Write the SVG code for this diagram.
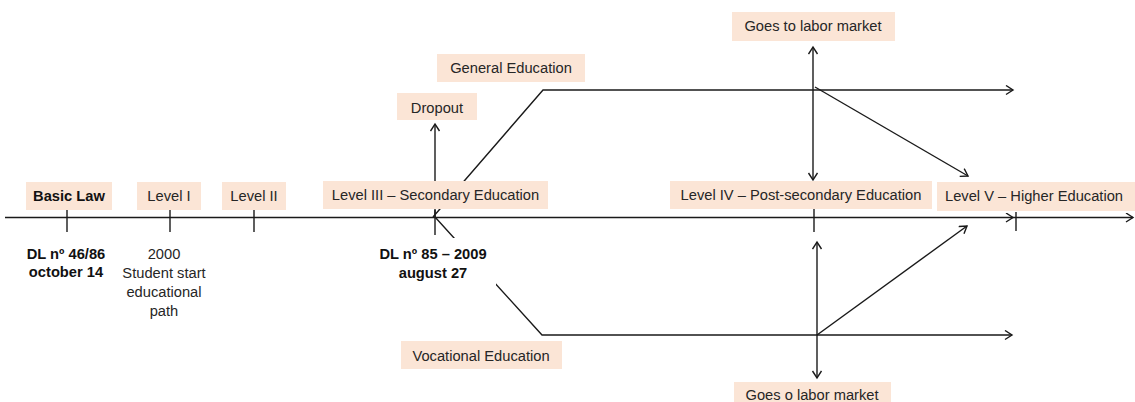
<svg xmlns="http://www.w3.org/2000/svg" width="1135" height="402" viewBox="0 0 1135 402">
<style>
.box{fill:#fbe5d6}
.t{font-family:"Liberation Sans",Arial,sans-serif;font-size:14.7px;fill:#262626;text-anchor:middle}
.b{font-weight:bold;fill:#111}
.ln{stroke:#1a1a1a;stroke-width:1.4;fill:none}
</style>
<defs>
<marker id="ah" markerUnits="userSpaceOnUse" markerWidth="10" markerHeight="12" refX="8" refY="5" orient="auto-start-reverse">
<path d="M1,0.5 L8,5 L1,9.5" fill="none" stroke="#1a1a1a" stroke-width="1.4"/>
</marker>
</defs>
<g id="connectors">
<line class="ln" x1="5" y1="217.5" x2="1013" y2="217.5" marker-end="url(#ah)"/>
<line class="ln" x1="1013" y1="217.5" x2="1133" y2="217.5" marker-end="url(#ah)"/>
<line class="ln" x1="67" y1="210" x2="67" y2="232"/>
<line class="ln" x1="170" y1="210" x2="170" y2="232"/>
<line class="ln" x1="254" y1="210" x2="254" y2="232"/>
<line class="ln" x1="435" y1="210" x2="435" y2="235"/>
<line class="ln" x1="814" y1="209" x2="814" y2="232"/>
<line class="ln" x1="1016" y1="212" x2="1016" y2="231"/>
<line class="ln" x1="435" y1="217" x2="435" y2="124" marker-end="url(#ah)"/>
<polyline class="ln" points="433,217 543,90 1013,90" marker-end="url(#ah)"/>
<polyline class="ln" points="435,217 542,335 1012,335" marker-end="url(#ah)"/>
<line class="ln" x1="813" y1="47" x2="813" y2="180" marker-start="url(#ah)" marker-end="url(#ah)"/>
<line class="ln" x1="815" y1="87" x2="968" y2="176" marker-end="url(#ah)"/>
<line class="ln" x1="817" y1="242" x2="817" y2="378" marker-start="url(#ah)" marker-end="url(#ah)"/>
<line class="ln" x1="817" y1="335" x2="967" y2="226" marker-end="url(#ah)"/>
</g>
<g id="basic-law"><rect class="box" x="26" y="182" width="86" height="28"/><text class="t b" x="69" y="201">Basic Law</text></g>
<g id="dl-46-86"><text class="t b" x="66" y="259">DL nº 46/86</text><text class="t b" x="66" y="277">october 14</text></g>
<g id="level-1"><rect class="box" x="137" y="182" width="64" height="28"/><text class="t" x="169" y="201">Level I</text></g>
<g id="year-2000"><text class="t" x="164" y="259">2000</text><text class="t" x="164" y="278">Student start</text><text class="t" x="164" y="297">educational</text><text class="t" x="164" y="316">path</text></g>
<g id="level-2"><rect class="box" x="222" y="182" width="64" height="28"/><text class="t" x="254" y="201">Level II</text></g>
<g id="level-3"><rect class="box" x="323" y="181" width="225" height="28"/><text class="t" x="435.5" y="200">Level III – Secondary Education</text></g>
<g id="dl-85-2009"><rect x="376" y="238" width="120" height="49" fill="#fff"/><text class="t b" x="433" y="259">DL nº 85 – 2009</text><text class="t b" x="433" y="278">august 27</text></g>
<g id="dropout"><rect class="box" x="397" y="93" width="80" height="27"/><text class="t" x="437" y="113">Dropout</text></g>
<g id="general-education"><rect class="box" x="437" y="54" width="148" height="28"/><text class="t" x="511" y="73">General Education</text></g>
<g id="vocational-education"><rect class="box" x="401" y="341" width="161" height="28"/><text class="t" x="481" y="361">Vocational Education</text></g>
<g id="labor-market-top"><rect class="box" x="732" y="12" width="163" height="29"/><text class="t" x="813" y="31">Goes to labor market</text></g>
<g id="level-4"><rect class="box" x="670" y="181" width="262" height="28"/><text class="t" x="801" y="200">Level IV – Post-secondary Education</text></g>
<g id="level-5"><rect class="box" x="937" y="182" width="198" height="29"/><text class="t" x="1034" y="201">Level V – Higher Education</text></g>
<g id="labor-market-bottom"><rect class="box" x="734" y="382" width="157" height="24"/><text class="t" x="812" y="400">Goes o labor market</text></g>
</svg>
